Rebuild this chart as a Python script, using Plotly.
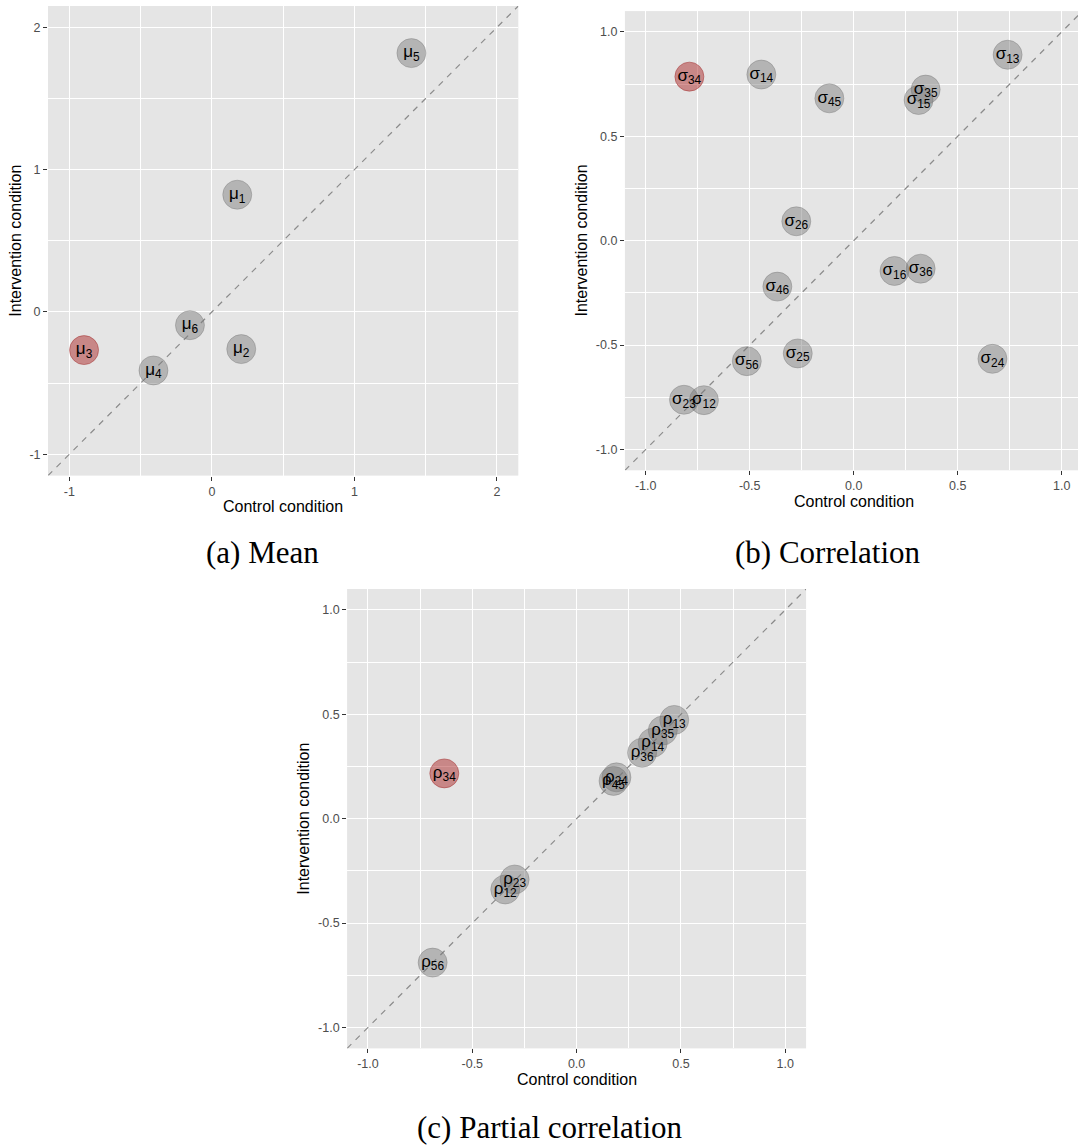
import plotly.graph_objects as go

# ---------------- data ----------------
mean_ids = ["1", "2", "3", "4", "5", "6"]
mean_control = [0.178, 0.206, -0.897, -0.410, 1.400, -0.154]
mean_intervention = [0.824, -0.261, -0.268, -0.411, 1.819, -0.093]
mean_highlight = "3"

cor_ids = ["12", "13", "14", "15", "16", "23", "24", "25", "26", "34", "35", "36", "45", "46", "56"]
cor_control = [-0.720, 0.740, -0.444, 0.312, 0.196, -0.816, 0.667, -0.269, -0.276, -0.790, 0.346, 0.322, -0.117, -0.367, -0.514]
cor_intervention = [-0.764, 0.891, 0.796, 0.674, -0.145, -0.762, -0.566, -0.540, 0.093, 0.786, 0.724, -0.134, 0.682, -0.220, -0.577]
cor_highlight = "34"

pcor_ids = ["12", "13", "14", "23", "24", "34", "35", "36", "45", "56"]
pcor_control = [-0.342, 0.468, 0.365, -0.297, 0.191, -0.634, 0.413, 0.314, 0.177, -0.690]
pcor_intervention = [-0.339, 0.473, 0.364, -0.291, 0.198, 0.217, 0.422, 0.316, 0.181, -0.689]
pcor_highlight = "34"

mean_ticks = [-1, 0, 1, 2]
mean_ticklabels = ["-1", "0", "1", "2"]
mean_minor = [-0.5, 0.5, 1.5]
cor_ticks = [-1.0, -0.5, 0.0, 0.5, 1.0]
cor_ticklabels = ["-1.0", "-0.5", "0.0", "0.5", "1.0"]
cor_minor = [-0.75, -0.25, 0.25, 0.75]

captions = ["(a) Mean", "(b) Correlation", "(c) Partial correlation"]
x_title = "Control condition"
y_title = "Intervention condition"

# ---------------- style ----------------
W, H = 1078, 1148
GRAY_FILL = "rgba(120,120,120,0.45)"
GRAY_LINE = "rgba(110,110,110,0.35)"
RED_FILL = "rgba(165,20,20,0.45)"
RED_LINE = "rgba(160,40,40,0.45)"


def px_x(p):
    return p / W


def px_y(p):
    return 1 - p / H


panels = [
    dict(sym="μ", ids=mean_ids, xs=mean_control, ys=mean_intervention, hl=mean_highlight,
         xr=[-1.15, 2.15], yr=[-1.15, 2.15], ticks=mean_ticks, labels=mean_ticklabels, minor=mean_minor,
         xdom=[48.0, 518.3], ydom=[6.0, 475.6]),
    dict(sym="σ", ids=cor_ids, xs=cor_control, ys=cor_intervention, hl=cor_highlight,
         xr=[-1.1, 1.0784], yr=[-1.1, 1.1], ticks=cor_ticks, labels=cor_ticklabels, minor=cor_minor,
         xdom=[624.9, 1078.0], ydom=[11.1, 470.3]),
    dict(sym="ρ", ids=pcor_ids, xs=pcor_control, ys=pcor_intervention, hl=pcor_highlight,
         xr=[-1.1, 1.1], yr=[-1.1, 1.1], ticks=cor_ticks, labels=cor_ticklabels, minor=cor_minor,
         xdom=[347.1, 806.1], ydom=[589.0, 1048.4]),
]

fig = go.Figure()
layout = {}
annotations = []

for i, p in enumerate(panels):
    n = "" if i == 0 else str(i + 1)
    xa, ya = "x" + n, "y" + n
    lo = min(p["xr"][0], p["yr"][0])
    hi = max(p["xr"][1], p["yr"][1])
    # identity line y = x
    fig.add_trace(go.Scatter(x=[lo, hi], y=[lo, hi], mode="lines", xaxis=xa, yaxis=ya,
                             line=dict(color="#8c8c8c", width=1.2, dash="6px,6px"),
                             hoverinfo="skip", showlegend=False))
    fills = [RED_FILL if k == p["hl"] else GRAY_FILL for k in p["ids"]]
    lines = [RED_LINE if k == p["hl"] else GRAY_LINE for k in p["ids"]]
    texts = [f"{p['sym']}<sub>{k}</sub>" for k in p["ids"]]
    fig.add_trace(go.Scatter(x=p["xs"], y=p["ys"], mode="markers+text", xaxis=xa, yaxis=ya,
                             text=texts, textposition="middle center",
                             textfont=dict(size=17, color="black", family="Liberation Sans, Arial"),
                             marker=dict(size=29, color=fills, line=dict(color=lines, width=1)),
                             hoverinfo="skip", showlegend=False, cliponaxis=False))
    common = dict(showline=False, zeroline=False, showgrid=True, gridcolor="white", gridwidth=1.4,
                  tickmode="array", tickvals=p["ticks"], ticktext=p["labels"],
                  ticks="outside", ticklen=4, tickwidth=1, tickcolor="#333333",
                  tickfont=dict(size=12.5, color="#4d4d4d", family="Liberation Sans, Arial"),
                  minor=dict(tickmode="array", tickvals=p["minor"], showgrid=True,
                             gridcolor="white", gridwidth=0.7, ticks=""))
    layout["xaxis" + n] = dict(domain=[px_x(p["xdom"][0]), px_x(p["xdom"][1])], range=p["xr"],
                               anchor=ya, **common)
    layout["yaxis" + n] = dict(domain=[px_y(p["ydom"][1]), px_y(p["ydom"][0])], range=p["yr"],
                               anchor=xa, **common)
    # axis titles
    xc = (p["xdom"][0] + p["xdom"][1]) / 2 if i != 1 else 853.7
    yc = (p["ydom"][0] + p["ydom"][1]) / 2
    annotations.append(dict(text=x_title, xref="paper", yref="paper", x=px_x(xc),
                            y=px_y(p["ydom"][1] + 31.3), xanchor="center", yanchor="middle",
                            showarrow=False, font=dict(size=16, color="black")))
    annotations.append(dict(text=y_title, xref="paper", yref="paper",
                            x=px_x(p["xdom"][0] - (32.1 if i == 0 else 43.1)),
                            y=px_y(yc), xanchor="center", yanchor="middle", textangle=-90,
                            showarrow=False, font=dict(size=16, color="black")))

# captions
cap_pos = [(262.0, 552.0), (828.0, 552.0), (550.3, 1127.0)]
for c, (cx, cy) in zip(captions, cap_pos):
    annotations.append(dict(text=c, xref="paper", yref="paper", x=px_x(cx), y=px_y(cy),
                            xanchor="center", yanchor="middle", showarrow=False,
                            font=dict(size=31, color="black", family="Liberation Serif, Times New Roman, serif")))

fig.update_layout(width=W, height=H, autosize=False, margin=dict(l=0, r=0, t=0, b=0),
                  paper_bgcolor="white", plot_bgcolor="#e5e5e5",
                  font=dict(family="Liberation Sans, Arial", color="black"),
                  annotations=annotations, showlegend=False, **layout)

fig.write_html("out.html")
